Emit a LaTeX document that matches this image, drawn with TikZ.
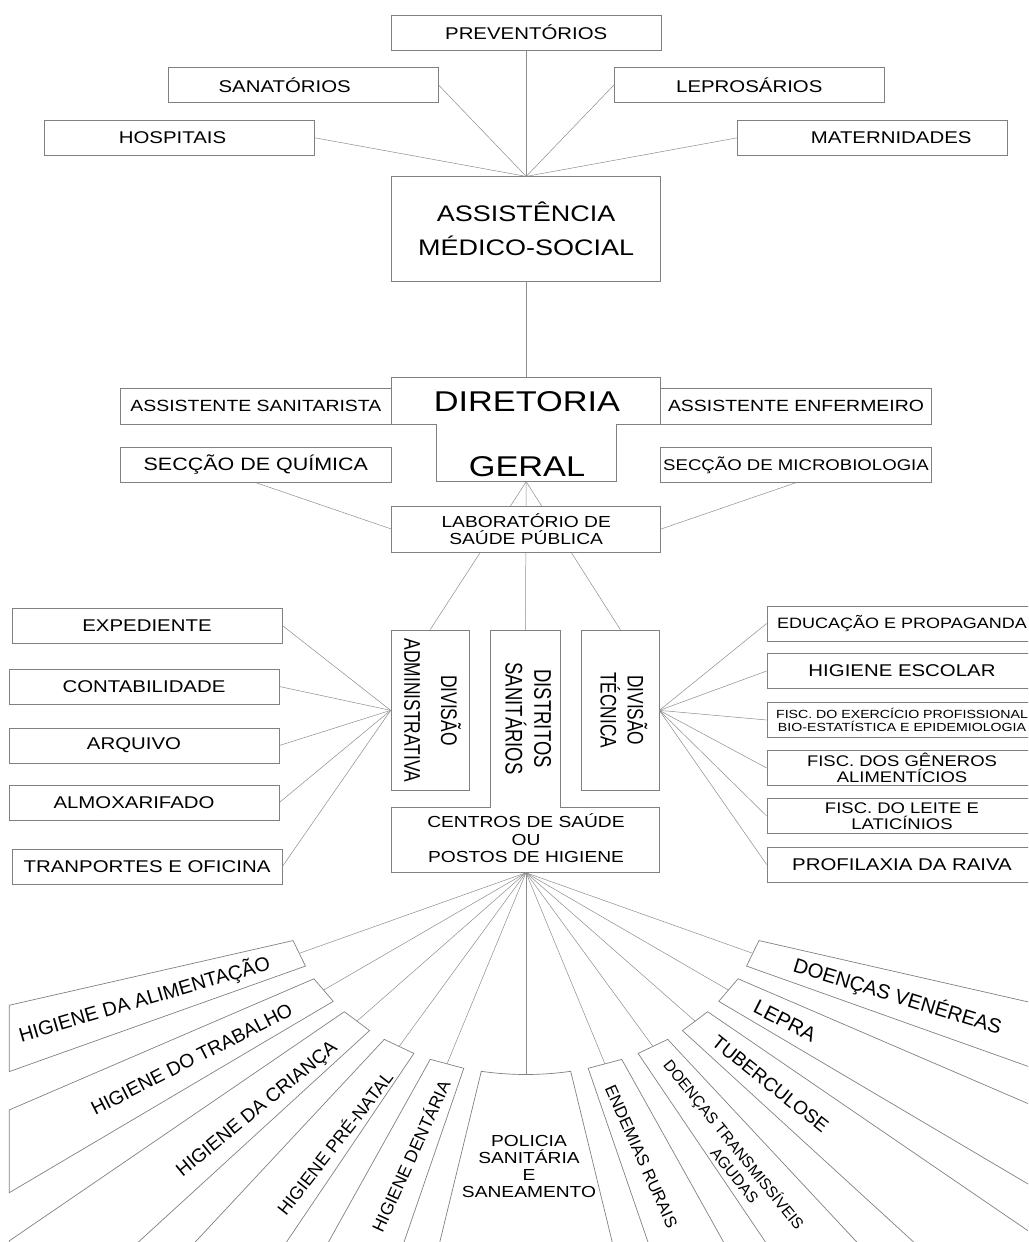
\documentclass[tikz,border=0pt]{standalone}
\usepackage{fontspec}
\setmainfont{Liberation Sans}
\newfontfamily\widefont[FakeStretch=1.2]{Liberation Sans}
\usepackage{graphicx}
\usepackage{tikz}
\usetikzlibrary{calc}

\newcommand{\setfs}[2]{\fontsize{#1}{#2}\selectfont}
% vertical (rotated) box labels
\newcommand{\vlabel}[3]{\scalebox{1.3}[1]{\rotatebox{-90}{\setfs{#1}{#2}\begin{tabular}{@{}c@{}}#3\end{tabular}}}}

\begin{document}
\begin{tikzpicture}[x=1pt, y=-1pt,
  box/.style={draw=black!50, line width=0.7pt, fill=white, inner sep=0pt,
    minimum width=270pt, minimum height=35pt},
  wbox/.style={box, align=center, font=\widefont\setfs{17}{18}},
  link/.style={black!45, line width=0.5pt},
  outline/.style={draw=black!50, line width=0.7pt},
  slab/.style={inner sep=0pt, align=center}]
\useasboundingbox (0,0) rectangle (1028,1242);
\clip (0,0) rectangle (1028,1242);

% Assistencia medico-social and its units
\node[wbox, minimum width=269pt, minimum height=104.3pt, font=\widefont\setfs{22.5}{34.3}] (asm) at (526.2,228.9) {ASSISTÊNCIA\\MÉDICO-SOCIAL};
\node[wbox] (prev) at (526.2,32.5) {PREVENTÓRIOS};
\node[wbox] (sana) at (303.2,85) {\hspace*{-37pt}SANATÓRIOS};
\node[wbox] (lepr) at (749.3,85) {LEPROSÁRIOS};
\node[wbox] (hosp) at (179.5,137.8) {\hspace*{-14pt}HOSPITAIS};
\node[wbox] (mate) at (872.7,137.8) {\hspace*{37pt}MATERNIDADES};
\draw[link] (hosp.east) -- (asm.north);
\draw[link] (sana.east) -- (asm.north);
\draw[link] (prev.south) -- (asm.north);
\draw[link] (lepr.west) -- (asm.north);
\draw[link] (mate.west) -- (asm.north);

% Diretoria geral (T shaped box)
\draw[outline] (391.7,377.7) -- (660.7,377.7) -- (660.7,424.3) -- (616.5,424.3) -- (616.5,481.7)
  -- (436.3,481.7) -- (436.3,424.3) -- (391.7,424.3) -- cycle;
\coordinate (dirN) at (526.2,377.7);
\coordinate (dirS) at (526.2,481.7);
\node[inner sep=0pt, align=center, font=\widefont\setfs{28.6}{65}] (dir) at (527,434) {DIRETORIA\\GERAL};
\draw[link] (asm.south) -- (dirN);

\node[wbox, minimum width=271.7pt, minimum height=36pt, font=\widefont\setfs{16.2}{17}] (asan) at (255.85,406.3) {ASSISTENTE SANITARISTA};
\node[wbox, minimum width=270.6pt, minimum height=36pt, font=\widefont\setfs{16.2}{17}] (aenf) at (796,406.3) {ASSISTENTE ENFERMEIRO};
\node[wbox, minimum width=271.7pt, minimum height=34.6pt, font=\widefont\setfs{17.9}{18}] (quim) at (255.85,465) {SECÇÃO DE QUÍMICA};
\node[wbox, minimum width=270.6pt, minimum height=34.6pt, font=\widefont\setfs{15.5}{16}] (micro) at (796,465) {SECÇÃO DE MICROBIOLOGIA};

% Divisions
\node[box, minimum width=78.3pt, minimum height=160.7pt] (adm) at (430.15,710.35) {\vlabel{17.4}{28.2}{DIVISÃO\\ADMINISTRATIVA}};
\node[box, minimum width=77.3pt, minimum height=160.7pt] (tec) at (620.35,710.35) {\vlabel{17.3}{19.2}{DIVISÃO\\TÉCNICA}};
\draw[outline] (490,630) -- (560.7,630) -- (560.7,807.3) -- (659,807.3) -- (659,872.7)
  -- (391,872.7) -- (391,807.3) -- (490,807.3) -- cycle;
\coordinate (distN) at (525.4,630);
\coordinate (hub) at (526,872.7);
\node[inner sep=0pt] (dist) at (525.4,718.6) {\vlabel{18.5}{20.8}{DISTRITOS\\SANITÁRIOS}};
\node[inner sep=0pt, align=center, font=\widefont\setfs{16}{17.5}] (cent) at (526,838.3) {CENTROS DE SAÚDE\\OU\\POSTOS DE HIGIENE};

% Laboratorio (lines pass behind it)
\draw[link] (dirS) -- (adm.north);
\draw[link] (dirS) -- (distN);
\draw[link] (dirS) -- (tec.north);
\node[wbox, minimum width=269pt, minimum height=46pt, font=\widefont\setfs{16}{17.3}] (lab) at (526.2,529) {LABORATÓRIO DE\\SAÚDE PÚBLICA};
\draw[link] (quim.south) -- (lab.west);
\draw[link] (micro.south) -- (lab.east);

% Administrative units
\node[wbox] (exp) at (147,625.5) {EXPEDIENTE};
\node[wbox] (cont) at (144,686.5) {CONTABILIDADE};
\node[wbox] (arq) at (144,745.5) {\hspace*{-20pt}ARQUIVO};
\node[wbox] (alm) at (144,802.5) {\hspace*{-20pt}ALMOXARIFADO};
\node[wbox] (tran) at (147,866.5) {TRANPORTES E OFICINA};
\foreach \u in {exp,cont,arq,alm,tran}
  \draw[link] (\u.east) -- (adm.west);

% Technical units
\node[wbox, font=\widefont\setfs{15}{16}] (edu) at (902,623.5) {EDUCAÇÃO E PROPAGANDA};
\node[wbox] (esc) at (902,671) {HIGIENE ESCOLAR};
\node[wbox, font=\widefont\setfs{11.8}{12.5}] (fex) at (902,720) {FISC. DO EXERCÍCIO PROFISSIONAL\\BIO-ESTATÍSTICA E EPIDEMIOLOGIA};
\node[wbox, font=\widefont\setfs{15.4}{16}] (gen) at (902,768) {FISC. DOS GÊNEROS\\ALIMENTÍCIOS};
\node[wbox, font=\widefont\setfs{15.4}{16}] (lei) at (902,816) {FISC. DO LEITE E\\LATICÍNIOS};
\node[wbox] (raiv) at (902,864.5) {PROFILAXIA DA RAIVA};
\foreach \u in {edu,esc,fex,gen,lei,raiv}
  \draw[link] (tec.east) -- (\u.west);

% Fan of services of the health centres
\coordinate (F) at (526,887.5);
\coordinate (L1) at (9.3,0);
\coordinate (L2) at (9.3,1242);
\coordinate (R1) at (1042.7,0);
\coordinate (R2) at (1042.7,1242);
\foreach \n/\p/\q in {1/196.49/204.84, 2/209.22/217.50, 3/221.62/229.92, 4/234.32/242.53,
    5/246.79/255.17, 6/259.40/280.60, 7/284.83/293.21, 8/297.47/305.68,
    9/310.08/318.38, 10/322.50/330.78, 11/335.16/343.51} {
  \coordinate (a\n) at ($(F)+(\p:243pt and 187pt)$);
  \coordinate (b\n) at ($(F)+(\q:243pt and 187pt)$);
  \coordinate (m\n) at ($(a\n)!0.5!(b\n)$);
}
\coordinate (m6) at ($(F)+(270:243pt and 187pt)$);

\foreach \n in {1,...,5}
  \draw[outline] (a\n) -- (b\n)
    -- (intersection cs: first line={(F)--(b\n)}, second line={(L1)--(L2)})
    -- (intersection cs: first line={(F)--(a\n)}, second line={(L1)--(L2)}) -- cycle;
\foreach \n in {7,...,11}
  \draw[outline] (a\n) -- (b\n)
    -- (intersection cs: first line={(F)--(b\n)}, second line={(R1)--(R2)})
    -- (intersection cs: first line={(F)--(a\n)}, second line={(R1)--(R2)}) -- cycle;
\draw[outline] (a6) arc[start angle=259.4, end angle=280.6, x radius=243pt, y radius=187pt]
  -- ($(F)!4!(b6)$) -- ($(F)!4!(a6)$) -- cycle;

\foreach \n in {1,...,11}
  \draw[link] (hub) -- (m\n);

% strip labels
\node[slab, font=\setfs{19.8}{20}, rotate=16.3] (t1) at (144.5,999.2) {HIGIENE DA ALIMENTAÇÃO};
\node[slab, font=\setfs{19.3}{20}, rotate=27.05] (t2) at (191.7,1059.2) {HIGIENE DO TRABALHO};
\node[slab, font=\setfs{19.1}{20}, rotate=39.5] (t3) at (257.5,1110) {HIGIENE DA CRIANÇA};
\node[slab, font=\setfs{17.8}{18}, rotate=52] (t4) at (334.2,1142.5) {HIGIENE PRÉ-NATAL};
\node[slab, font=\setfs{17.4}{18}, rotate=65.5] (t5) at (410,1155.8) {HIGIENE DENTÁRIA};
\node[slab, font=\widefont\setfs{16}{17}] (t6) at (529,1166) {POLICIA\\SANITÁRIA\\E\\SANEAMENTO};
\node[slab, font=\setfs{16.6}{17}, rotate=-65.8] (t7) at (641.3,1156.7) {ENDEMIAS RURAIS};
\node[slab, font=\setfs{15.6}{18.8}, rotate=-51] (t8) at (727.4,1149.9) {DOENÇAS TRANSMISSÍVEIS\\\hspace*{49pt}AGUDAS};
\node[slab, font=\setfs{19}{20}, rotate=-38.6] (t9) at (770.5,1084.2) {TUBERCULOSE};
\node[slab, font=\setfs{20.4}{21}, rotate=-27] (t10) at (785,1020.8) {LEPRA};
\node[slab, font=\setfs{20.3}{21}, rotate=-17] (t11) at (897.5,996.7) {DOENÇAS VENÉREAS};
\end{tikzpicture}
\end{document}
